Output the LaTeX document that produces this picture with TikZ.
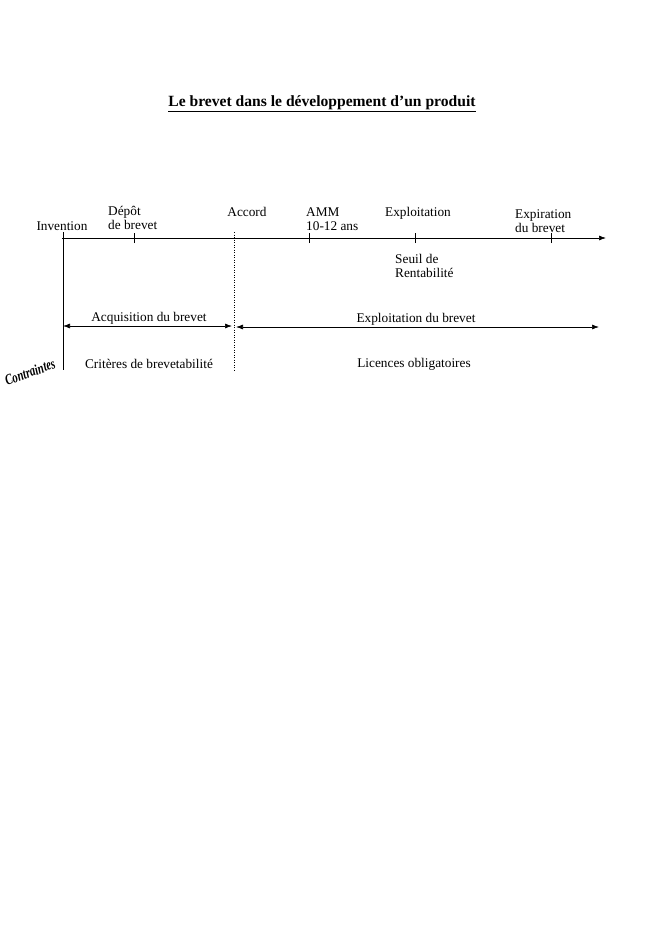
\documentclass[tikz,border=0pt]{standalone}
\usepackage{fontspec}
\setmainfont{Liberation Serif}
\usetikzlibrary{arrows.meta}
\begin{document}
\begin{tikzpicture}[x=1pt,y=-1pt,
  lbl/.style={inner sep=0pt,font=\fontsize{13.3}{15}\selectfont},
  lblL/.style={lbl,anchor=west,align=left},
  tick/.style={line width=0.6pt},
  axis/.style={line width=0.7pt},
  arr/.style={-{Latex[length=7pt,width=5pt]}},
  darr/.style={{Latex[length=7pt,width=5pt]}-{Latex[length=7pt,width=5pt]}},
  guide/.style={line width=0.5pt,dotted}]
\useasboundingbox (0,0) rectangle (661,933);
% title
\node[lbl,font=\fontsize{15.6}{18}\selectfont\bfseries] (title) at (322,104) {\underline{Le brevet dans le développement d’un produit}};
% timeline
\coordinate (t0) at (62,238);
\coordinate (tEnd) at (606,238);
\draw[axis,arr] (t0) -- (tEnd);
\coordinate (tk1) at (134,238);
\coordinate (tk2) at (309,238);
\coordinate (tk3) at (415,238);
\coordinate (tk4) at (551,238);
\foreach \c in {tk1,tk2,tk3,tk4} \draw[tick] ([yshift=-5]\c) -- ([yshift=5]\c);
% vertical guides
\coordinate (vI1) at (63,232);
\coordinate (vI2) at (63,370);
\coordinate (vA1) at (234,232);
\coordinate (vA2) at (234,370);
\draw[line width=0.6pt] (vI1) -- (vI2);
\draw[guide] (vA1) -- (vA2);
% labels
\node[lbl] (inv) at (62,226) {Invention};
\node[lblL] (dep) at (108,218) {Dépôt\\[-1pt]de brevet};
\node[lbl] (acc) at (247,212) {Accord};
\node[lblL] (amm) at (306,219) {AMM\\[-1pt]10-12 ans};
\node[lbl] (expl) at (418,213) {Exploitation};
\node[lblL] (expi) at (515,221) {Expiration\\[-1pt]du brevet};
\node[lblL] (seuil) at (395,266) {Seuil de\\[-1pt]Rentabilité};
% periods
\coordinate (p1a) at (63,326);
\coordinate (p1b) at (232,326);
\coordinate (p2a) at (236,327);
\coordinate (p2b) at (599,327);
\draw[axis,darr] (p1a) -- (p1b);
\draw[axis,darr] (p2a) -- (p2b);
\node[lbl] (acq) at (149,318) {Acquisition du brevet};
\node[lbl] (exb) at (416,319) {Exploitation du brevet};
\node[lbl] (crit) at (149,364) {Critères de brevetabilité};
\node[lbl] (lic) at (414,364) {Licences obligatoires};
\node[lbl,rotate=20,font=\fontsize{15}{17}\selectfont\bfseries\itshape,xscale=0.72] (contr) at (30,372) {Contraintes};
\end{tikzpicture}
\end{document}
